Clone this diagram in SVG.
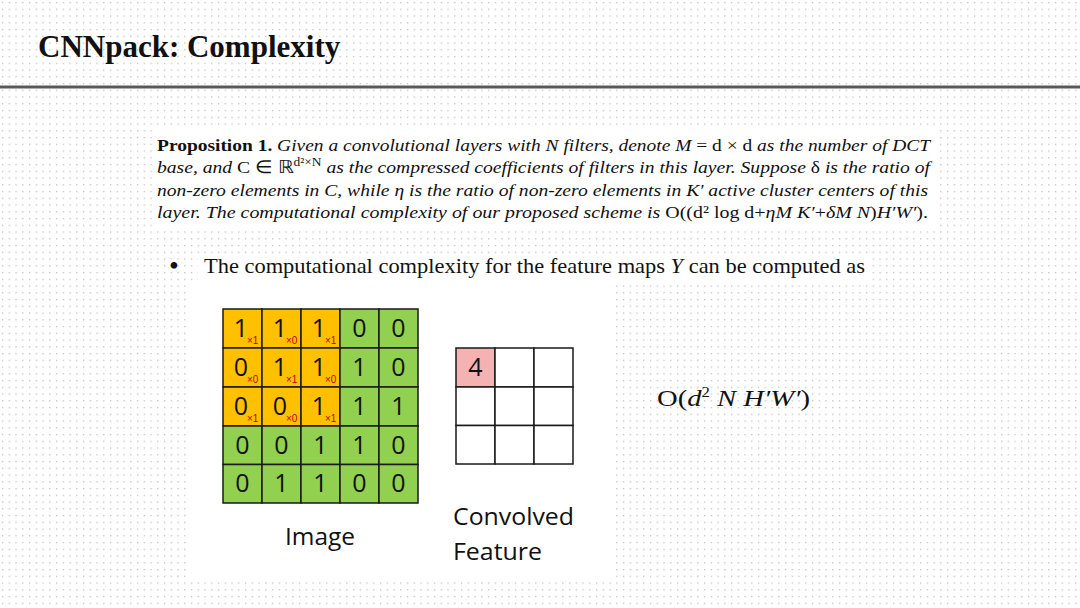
<svg xmlns="http://www.w3.org/2000/svg" width="1080" height="608" viewBox="0 0 1080 608">
<defs>
<pattern id="dots" x="0" y="0" width="6.75" height="6.75" patternUnits="userSpaceOnUse">
<rect x="2" y="2" width="1.2" height="1.2" fill="#b4b4b4"/>
</pattern>
<style>
.ser{font-family:"Liberation Serif","Times New Roman",serif;fill:#111}
.it{font-style:italic}
.sans{font-family:"Open Sans","Noto Sans","Liberation Sans",sans-serif;fill:#111}
.num{font-family:"Open Sans","Noto Sans","Liberation Sans",sans-serif;font-size:25px;fill:#111;text-anchor:middle}
.sub{font-family:"Liberation Sans",sans-serif;font-size:10px;fill:#c00000}
.y{fill:#ffc000;stroke:#1a1a1a;stroke-width:1.5}
.g{fill:#92d050;stroke:#1a1a1a;stroke-width:1.5}
.w{fill:#fff;stroke:#1a1a1a;stroke-width:1.5}
.p{fill:#f4b2b2;stroke:#1a1a1a;stroke-width:1.5}
</style>
</defs>
<rect width="1080" height="608" fill="#fff"/>
<rect width="1080" height="608" fill="url(#dots)"/>

<g id="title">
<text x="38" y="57" class="ser" font-size="31" font-weight="bold">CNNpack: Complexity</text>
<line x1="0" y1="87" x2="1080" y2="87" stroke="#595959" stroke-width="3"/>
</g>

<g id="proposition">
<rect x="155" y="130" width="782" height="98" fill="#fff"/>
<text class="ser" font-size="17.5" y="151" x="157" textLength="773" lengthAdjust="spacingAndGlyphs"><tspan font-weight="bold">Proposition 1.</tspan><tspan class="it"> Given a convolutional layers with N filters, denote M </tspan><tspan>= d × d</tspan><tspan class="it"> as the number of DCT</tspan></text>
<text class="ser" font-size="17.5" y="173" x="157" textLength="773" lengthAdjust="spacingAndGlyphs"><tspan class="it">base, and </tspan><tspan>C ∈ ℝ</tspan><tspan font-size="12" dy="-7">d²×N</tspan><tspan class="it" dy="7"> as the compressed coefficients of filters in this layer. Suppose </tspan><tspan>δ</tspan><tspan class="it"> is the ratio of</tspan></text>
<text class="ser it" font-size="17.5" y="196" x="157" textLength="771" lengthAdjust="spacingAndGlyphs">non-zero elements in C, while η is the ratio of non-zero elements in K′ active cluster centers of this</text>
<text class="ser" font-size="17.5" y="218" x="157" textLength="771" lengthAdjust="spacingAndGlyphs"><tspan class="it">layer. The computational complexity of our proposed scheme is </tspan><tspan>O((d² log d+</tspan><tspan class="it">ηM K′</tspan><tspan>+</tspan><tspan class="it">δM N</tspan><tspan>)</tspan><tspan class="it">H′W′</tspan><tspan>).</tspan></text>
</g>

<g id="bullet">
<rect x="198" y="256" width="672" height="28" fill="#fff"/>
<text x="169" y="275" class="ser" font-size="28">•</text>
<text x="204" y="273" class="ser" font-size="21" textLength="661" lengthAdjust="spacingAndGlyphs">The computational complexity for the feature maps <tspan class="it">Y</tspan> can be computed as</text>
</g>

<g id="figure">
<rect x="187" y="284" width="425" height="296" fill="#fff"/>
</g>

<g id="image-grid">
<rect class="y" x="223" y="309" width="39" height="39"/>
<rect class="y" x="262" y="309" width="39" height="39"/>
<rect class="y" x="301" y="309" width="39" height="39"/>
<rect class="g" x="340" y="309" width="39" height="39"/>
<rect class="g" x="379" y="309" width="39" height="39"/>
<rect class="y" x="223" y="348" width="39" height="39"/>
<rect class="y" x="262" y="348" width="39" height="39"/>
<rect class="y" x="301" y="348" width="39" height="39"/>
<rect class="g" x="340" y="348" width="39" height="39"/>
<rect class="g" x="379" y="348" width="39" height="39"/>
<rect class="y" x="223" y="387" width="39" height="39"/>
<rect class="y" x="262" y="387" width="39" height="39"/>
<rect class="y" x="301" y="387" width="39" height="39"/>
<rect class="g" x="340" y="387" width="39" height="39"/>
<rect class="g" x="379" y="387" width="39" height="39"/>
<rect class="g" x="223" y="426" width="39" height="38.5"/>
<rect class="g" x="262" y="426" width="39" height="38.5"/>
<rect class="g" x="301" y="426" width="39" height="38.5"/>
<rect class="g" x="340" y="426" width="39" height="38.5"/>
<rect class="g" x="379" y="426" width="39" height="38.5"/>
<rect class="g" x="223" y="464.5" width="39" height="38.5"/>
<rect class="g" x="262" y="464.5" width="39" height="38.5"/>
<rect class="g" x="301" y="464.5" width="39" height="38.5"/>
<rect class="g" x="340" y="464.5" width="39" height="38.5"/>
<rect class="g" x="379" y="464.5" width="39" height="38.5"/>

<text class="num" x="241" y="337">1</text>
<text class="num" x="280" y="337">1</text>
<text class="num" x="319" y="337">1</text>
<text class="num" x="359.5" y="337">0</text>
<text class="num" x="398.5" y="337">0</text>
<text class="num" x="241" y="376">0</text>
<text class="num" x="280" y="376">1</text>
<text class="num" x="319" y="376">1</text>
<text class="num" x="359.5" y="376">1</text>
<text class="num" x="398.5" y="376">0</text>
<text class="num" x="241" y="415">0</text>
<text class="num" x="280" y="415">0</text>
<text class="num" x="319" y="415">1</text>
<text class="num" x="359.5" y="415">1</text>
<text class="num" x="398.5" y="415">1</text>
<text class="num" x="242.5" y="454">0</text>
<text class="num" x="281.5" y="454">0</text>
<text class="num" x="320.5" y="454">1</text>
<text class="num" x="359.5" y="454">1</text>
<text class="num" x="398.5" y="454">0</text>
<text class="num" x="242.5" y="492">0</text>
<text class="num" x="281.5" y="492">1</text>
<text class="num" x="320.5" y="492">1</text>
<text class="num" x="359.5" y="492">0</text>
<text class="num" x="398.5" y="492">0</text>

<text class="sub" x="247" y="344">×1</text>
<text class="sub" x="286" y="344">×0</text>
<text class="sub" x="325" y="344">×1</text>
<text class="sub" x="247" y="383">×0</text>
<text class="sub" x="286" y="383">×1</text>
<text class="sub" x="325" y="383">×0</text>
<text class="sub" x="247" y="422">×1</text>
<text class="sub" x="286" y="422">×0</text>
<text class="sub" x="325" y="422">×1</text>

<text class="sans" x="285" y="545" font-size="23" textLength="70" lengthAdjust="spacingAndGlyphs">Image</text>
</g>

<g id="convolved-grid">
<rect class="p" x="456" y="348" width="39" height="39"/>
<rect class="w" x="495" y="348" width="39" height="39"/>
<rect class="w" x="534" y="348" width="39" height="39"/>
<rect class="w" x="456" y="387" width="39" height="38.5"/>
<rect class="w" x="495" y="387" width="39" height="38.5"/>
<rect class="w" x="534" y="387" width="39" height="38.5"/>
<rect class="w" x="456" y="425.5" width="39" height="38.5"/>
<rect class="w" x="495" y="425.5" width="39" height="38.5"/>
<rect class="w" x="534" y="425.5" width="39" height="38.5"/>
<text class="num" x="475.5" y="376">4</text>
<text class="sans" x="453" y="525" font-size="23" textLength="121" lengthAdjust="spacingAndGlyphs">Convolved</text>
<text class="sans" x="453" y="560" font-size="23" textLength="89" lengthAdjust="spacingAndGlyphs">Feature</text>
</g>

<g id="formula">
<text x="657" y="406" class="ser" font-size="24" textLength="153" lengthAdjust="spacingAndGlyphs"><tspan>O(</tspan><tspan class="it">d</tspan><tspan font-size="14" dy="-9">2</tspan><tspan class="it" dy="9"> N H′W′</tspan><tspan>)</tspan></text>
</g>
</svg>
